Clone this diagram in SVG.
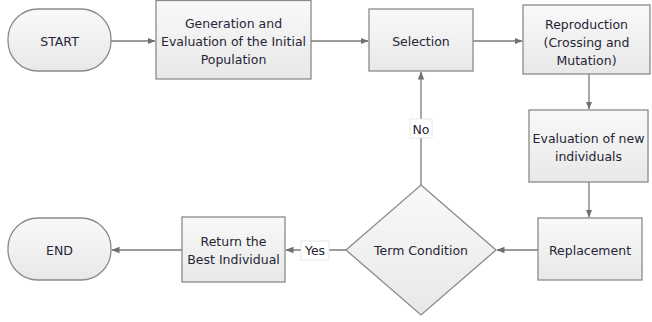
<svg xmlns="http://www.w3.org/2000/svg" width="652" height="322" viewBox="0 0 652 322">
  <defs>
    <linearGradient id="boxFill" x1="0" y1="0" x2="0" y2="1">
      <stop offset="0" stop-color="#f9f9f9"/>
      <stop offset="1" stop-color="#e8e8e8"/>
    </linearGradient>
    <marker id="arrow" viewBox="0 0 8 8" refX="7.5" refY="4" markerWidth="8" markerHeight="8" markerUnits="userSpaceOnUse" orient="auto">
      <path d="M0,0.8 L8,4 L0,7.2 Z" fill="#707070"/>
    </marker>
  </defs>
  <style>
    .shape { fill: url(#boxFill); stroke: #8a8a8a; stroke-width: 1.3; }
    .label { font-family: "DejaVu Sans", Verdana, sans-serif; font-size: 12.5px; fill: #252535; text-anchor: middle; }
    .edge { stroke: #7a7a7a; stroke-width: 1.3; fill: none; }
    .tag { fill: #ffffff; stroke: #e0e0e0; stroke-width: 0.8; }
  </style>
  <rect width="652" height="322" fill="#ffffff"/>

  <g id="connectors">
    <path class="edge" d="M111,41 H155" marker-end="url(#arrow)"/>
    <path class="edge" d="M311,41 H368" marker-end="url(#arrow)"/>
    <path class="edge" d="M473,41 H522" marker-end="url(#arrow)"/>
    <path class="edge" d="M589,74 V109" marker-end="url(#arrow)"/>
    <path class="edge" d="M589,182 V217" marker-end="url(#arrow)"/>
    <path class="edge" d="M538,250 H497" marker-end="url(#arrow)"/>
    <path class="edge" d="M421,185 V72" marker-end="url(#arrow)"/>
    <path class="edge" d="M346,250 H286" marker-end="url(#arrow)"/>
    <path class="edge" d="M182,250 H112" marker-end="url(#arrow)"/>
    <g id="label-no">
      <rect class="tag" x="410" y="119" width="22" height="19"/>
      <text class="label" x="421" y="133.5">No</text>
    </g>
    <g id="label-yes">
      <rect class="tag" x="301" y="241" width="28" height="19"/>
      <text class="label" x="315" y="255">Yes</text>
    </g>
  </g>

  <g id="start">
    <rect class="shape" x="8" y="9" width="103" height="62" rx="30" ry="30"/>
    <text class="label" x="59.5" y="45.5">START</text>
  </g>

  <g id="generation">
    <rect class="shape" x="156" y="0.5" width="155" height="78.5"/>
    <text class="label" x="233.5" y="28">Generation and</text>
    <text class="label" x="233.5" y="46">Evaluation of the Initial</text>
    <text class="label" x="233.5" y="64">Population</text>
  </g>

  <g id="selection">
    <rect class="shape" x="369" y="9" width="104" height="62"/>
    <text class="label" x="421" y="45.5">Selection</text>
  </g>

  <g id="reproduction">
    <rect class="shape" x="523" y="5" width="127" height="69"/>
    <text class="label" x="586.5" y="29">Reproduction</text>
    <text class="label" x="586.5" y="47">(Crossing and</text>
    <text class="label" x="586.5" y="65">Mutation)</text>
  </g>

  <g id="evaluation">
    <rect class="shape" x="529" y="110" width="119" height="72"/>
    <text class="label" x="588.5" y="143">Evaluation of new</text>
    <text class="label" x="588.5" y="161">individuals</text>
  </g>

  <g id="replacement">
    <rect class="shape" x="538" y="218" width="104" height="62"/>
    <text class="label" x="590" y="254.5">Replacement</text>
  </g>

  <g id="term-condition">
    <polygon class="shape" points="421,185 496,250 421,315 346,250"/>
    <text class="label" x="421" y="254.5">Term Condition</text>
  </g>

  <g id="return-best">
    <rect class="shape" x="182" y="217" width="103" height="65"/>
    <text class="label" x="233.5" y="246">Return the</text>
    <text class="label" x="233.5" y="264">Best Individual</text>
  </g>

  <g id="end">
    <rect class="shape" x="8" y="218" width="103" height="62" rx="30" ry="30"/>
    <text class="label" x="59.5" y="254.5">END</text>
  </g>
</svg>
